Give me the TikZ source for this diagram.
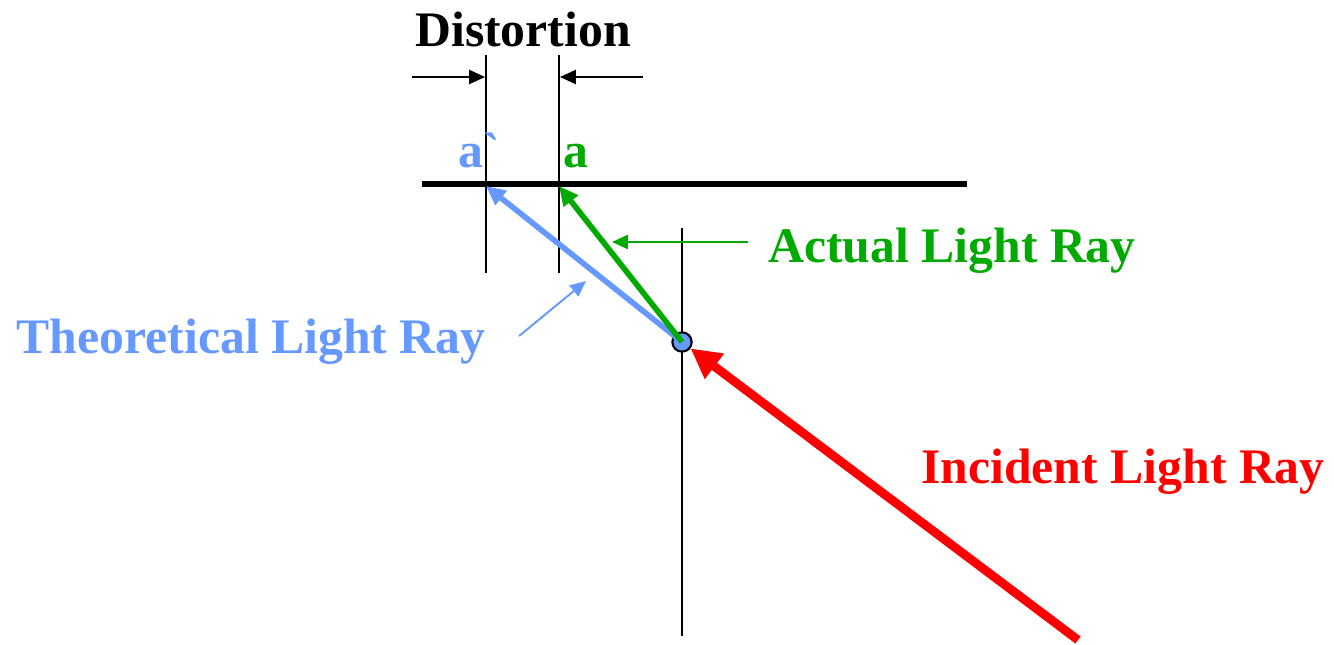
\documentclass[tikz,border=0pt]{standalone}
\usepackage{fontspec}
\setmainfont{Liberation Serif}
\newfontfamily\rawserif{Liberation Serif}
\usetikzlibrary{arrows.meta, positioning}
\definecolor{raygreen}{RGB}{0,170,0}
\definecolor{rayblue}{RGB}{102,153,255}
\definecolor{rayred}{RGB}{255,0,0}

\begin{document}
\begin{tikzpicture}[
    x=0.02cm, y=-0.02cm,
    guide/.style={line width=1.1pt, black},
    film/.style={line width=2.9pt, black},
    ray/.style={line width=3.2pt, -{Triangle[length=11pt, width=10pt]}},
    pointer/.style={line width=1.1pt, -{Triangle[length=9pt, width=8pt]}},
    label/.style={font=\bfseries\fontsize{28.3}{30}\selectfont, inner sep=0pt, anchor=base},
]
\useasboundingbox (0,0) rectangle (1334,645);

% Image plane and guide lines
\draw[film] (422,184) -- (967,184);
\draw[guide] (486,55) -- (486,273);
\draw[guide] (559,55) -- (559,273);
\draw[guide] (682,228) -- (682,636);

% Lens centre
\node[circle, draw=black, line width=1.2pt, fill=rayblue, minimum size=11pt, inner sep=0pt] (lens) at (682,342) {};
\coordinate (aprime) at (486,186);
\coordinate (aact) at (559,186);
\coordinate (source) at (1078,640);

% Rays
\draw[ray, rayblue] (lens.center) -- (aprime);
\draw[ray, raygreen] (lens.center) -- (aact);
\draw[rayred, line width=5pt, -{Triangle[length=17pt, width=17pt]}] (source) -- (lens);

% Distortion
\node[label] (dist) at (523,47) {Distortion};
\coordinate (dl) at (412,77);
\coordinate (dr) at (643,77);
\draw[pointer] (dl) -- (485,77);
\draw[pointer] (dr) -- (560,77);

% Labels
\node[label, rayblue] (lblaprime) at (479,168) {\rawserif\bfseries a`};
\node[label, raygreen] (lbla) at (576,168) {a};
\node[label, raygreen] (actual) at (952,262) {Actual Light Ray};
\node[label, rayblue] (theory) at (251,353) {Theoretical Light Ray};
\node[label, rayred] (incident) at (1123,483) {Incident Light Ray};

% Pointers
\coordinate (pa) at (612,242);
\coordinate (pt) at (586,281);
\draw[pointer, raygreen] (actual.west |- pa) ++(-20,0) coordinate (pas) -- (pa);
\draw[pointer, rayblue] (519,336) coordinate (pts) -- (pt);

\end{tikzpicture}
\end{document}
